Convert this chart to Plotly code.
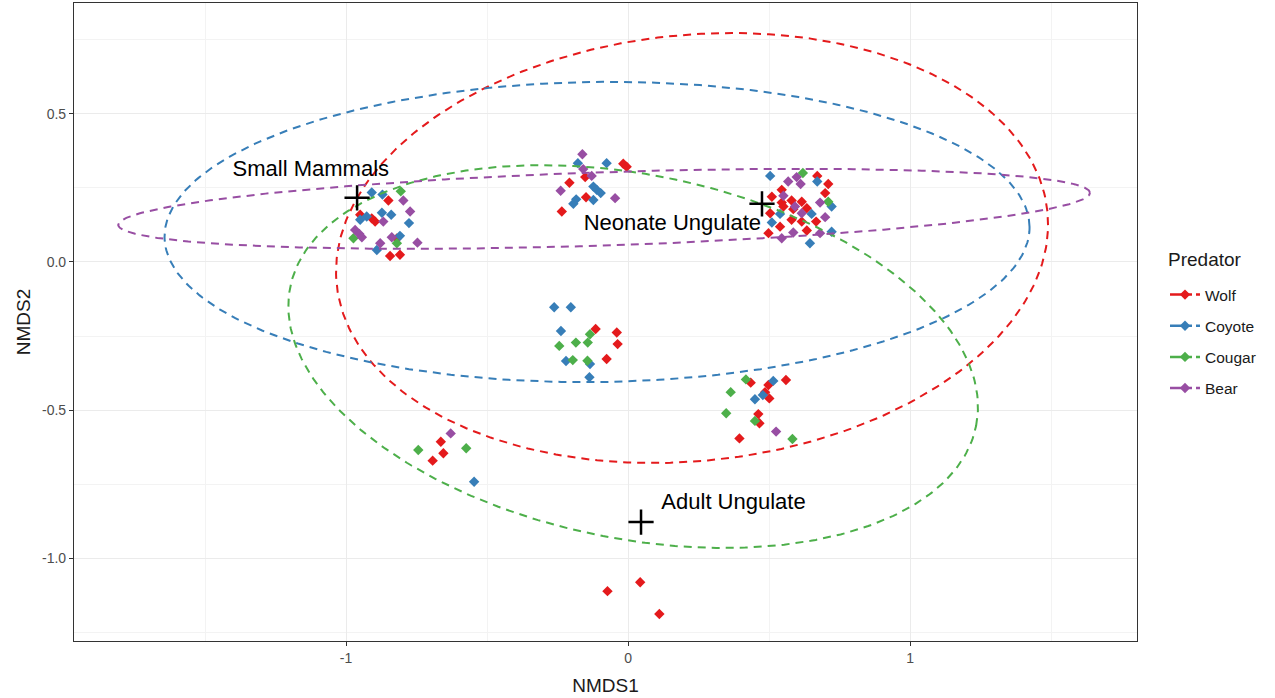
import numpy as np
import plotly.graph_objects as go

PREDATORS = ["Wolf", "Coyote", "Cougar", "Bear"]
COLORS = ["#E41A1C", "#377EB8", "#4DAF4A", "#984EA3"]

# points per predator (NMDS1, NMDS2)
WOLF_X = [-0.850, -0.950, -0.909, -0.897, -0.820, -0.844, -0.809,
          -0.017, -0.005, -0.152, -0.208, -0.149, -0.235,
          0.671, 0.710, 0.545, 0.699, 0.510, 0.545, 0.580, 0.616, 0.551, 0.586, 0.634,
          0.504, 0.580, 0.616, 0.667, 0.539, 0.498, 0.634,
          -0.115, -0.040, -0.037, -0.076,
          0.435, 0.560, 0.498, 0.486, 0.501, 0.462, 0.466, 0.395,
          -0.664, -0.655, -0.693,
          -0.073, 0.043, 0.111]
WOLF_Y = [0.207, 0.159, 0.147, 0.136, 0.079, 0.020, 0.024,
          0.331, 0.321, 0.286, 0.267, 0.218, 0.170,
          0.290, 0.263, 0.243, 0.232, 0.220, 0.200, 0.207, 0.203, 0.187, 0.178, 0.181,
          0.164, 0.142, 0.136, 0.136, 0.119, 0.097, 0.106,
          -0.226, -0.238, -0.277, -0.327,
          -0.407, -0.398, -0.415, -0.439, -0.460, -0.513, -0.544, -0.595,
          -0.606, -0.645, -0.670,
          -1.110, -1.080, -1.187]

COYOTE_X = [-0.909, -0.871, -0.950, -0.927, -0.873, -0.840, -0.777, -0.809, -0.891,
            -0.178, -0.076, -0.123, -0.111, -0.097, -0.184, -0.194, -0.123,
            0.504, 0.671, 0.722, 0.539, 0.651, 0.510, 0.722, 0.645,
            -0.262, -0.203, -0.238, -0.220, -0.135, -0.137,
            0.515, 0.478, 0.450,
            -0.546]
COYOTE_Y = [0.234, 0.227, 0.142, 0.153, 0.166, 0.159, 0.131, 0.088, 0.040,
            0.333, 0.333, 0.254, 0.243, 0.232, 0.211, 0.196, 0.209,
            0.290, 0.271, 0.187, 0.162, 0.162, 0.133, 0.102, 0.063,
            -0.153, -0.153, -0.233, -0.334, -0.344, -0.389,
            -0.401, -0.449, -0.463,
            -0.741]

COUGAR_X = [-0.806, -0.974, -0.820,
            0.710, 0.620,
            -0.135, -0.244, -0.185, -0.143, -0.196, -0.144,
            0.418, 0.364, 0.348, 0.450, 0.583,
            -0.744, -0.574]
COUGAR_Y = [0.238, 0.080, 0.063,
            0.203, 0.300,
            -0.244, -0.283, -0.272, -0.272, -0.331, -0.333,
            -0.396, -0.439, -0.510, -0.536, -0.597,
            -0.634, -0.628]

BEAR_X = [-0.797, -0.868, -0.773, -0.968, -0.953, -0.944, -0.838, -0.879, -0.747,
          -0.162, -0.159, -0.129, -0.239, -0.046,
          0.568, 0.598, 0.612, 0.551, 0.681, 0.592, 0.616, 0.699, 0.586, 0.681, 0.545,
          0.525,
          -0.629]
BEAR_Y = [0.207, 0.136, 0.170, 0.108, 0.094, 0.083, 0.083, 0.063, 0.065,
          0.363, 0.313, 0.290, 0.240, 0.215,
          0.271, 0.286, 0.263, 0.223, 0.200, 0.187, 0.164, 0.151, 0.099, 0.097, 0.080,
          -0.572,
          -0.578]

PTS_X = [WOLF_X, COYOTE_X, COUGAR_X, BEAR_X]
PTS_Y = [WOLF_Y, COYOTE_Y, COUGAR_Y, BEAR_Y]

# ellipse parameters (center, semi-axes in NMDS1 units, rotation in rad)
ELL_CX = [0.227, -0.110, 0.018, -0.085]
ELL_CY = [0.047, 0.101, -0.319, 0.179]
ELL_A = [1.267, 1.534, 1.241, 1.724]
ELL_B = [0.755, 0.532, 0.645, 0.130]
ELL_ANG = [0.103, 0.012, -0.200, 0.033]
Y_ASPECT = 282.0 / 296.5

# prey centroids
PREY_NAMES = ["Small Mammals", "Neonate Ungulate", "Adult Ungulate"]
PREY_X = [-0.961, 0.475, 0.046]
PREY_Y = [0.216, 0.196, -0.877]
LABEL_X = [-1.125, 0.157, 0.374]
LABEL_Y = [0.307, 0.125, -0.813]

FONT = "Liberation Sans, Arial, sans-serif"

fig = go.Figure()

for i, name in enumerate(PREDATORS):
    fig.add_trace(go.Scatter(
        x=PTS_X[i], y=PTS_Y[i], mode="markers",
        marker=dict(symbol="diamond", size=8, color=COLORS[i]),
        showlegend=False, hoverinfo="skip"))

t = np.linspace(0, 2 * np.pi, 361)
for i, name in enumerate(PREDATORS):
    a, b, th = ELL_A[i], ELL_B[i], ELL_ANG[i]
    ex = ELL_CX[i] + a * np.cos(th) * np.cos(t) - b * np.sin(th) * np.sin(t)
    ey = ELL_CY[i] + (a * np.sin(th) * np.cos(t) + b * np.cos(th) * np.sin(t)) * Y_ASPECT
    fig.add_trace(go.Scatter(
        x=ex, y=ey, mode="lines",
        line=dict(color=COLORS[i], width=2, dash="8px,6px"),
        showlegend=False, hoverinfo="skip"))

for i, name in enumerate(PREDATORS):
    fig.add_trace(go.Scatter(
        x=[None], y=[None], mode="lines+markers", name=name, legendgroup=name,
        line=dict(color=COLORS[i], width=2.5, dash="22px,4px"),
        marker=dict(symbol="diamond", size=8, color=COLORS[i])))

fig.add_trace(go.Scatter(
    x=PREY_X, y=PREY_Y, mode="markers",
    marker=dict(symbol="cross-thin", size=18, line=dict(color="black", width=2.5)),
    showlegend=False, hoverinfo="skip"))

fig.add_trace(go.Scatter(
    x=LABEL_X, y=LABEL_Y, mode="text", text=PREY_NAMES,
    textfont=dict(family=FONT, size=22, color="black"),
    showlegend=False, hoverinfo="skip"))

axis_common = dict(
    showgrid=True, gridcolor="#EBEBEB", gridwidth=1.2,
    zeroline=False, showline=True, mirror=True, linecolor="#333333", linewidth=1.2,
    ticks="outside", ticklen=4, tickcolor="#333333", tickwidth=1,
    tickfont=dict(family=FONT, size=14, color="#4D4D4D"),
    minor=dict(showgrid=True, gridcolor="#F3F3F3", gridwidth=0.8),
)

fig.update_layout(
    width=1275, height=698,
    margin=dict(l=74, r=138, t=3, b=57),
    paper_bgcolor="white", plot_bgcolor="white",
    font=dict(family=FONT, color="black"),
    xaxis=dict(range=[-1.965, 1.805], tickvals=[-1, 0, 1], ticktext=["-1", "0", "1"],
               title=dict(text="NMDS1", font=dict(size=19, color="#1A1A1A"), standoff=13),
               **axis_common),
    yaxis=dict(range=[-1.278, 0.873], tickvals=[-1.0, -0.5, 0.0, 0.5],
               ticktext=["-1.0", "-0.5", "0.0", "0.5"],
               title=dict(text="NMDS2", font=dict(size=19, color="#1A1A1A"), standoff=6),
               **axis_common),
    legend=dict(
        font=dict(size=15.5, color="#1A1A1A"),
        x=(1165 - 74) / 1063, xanchor="left",
        y=(641 - 278) / 638, yanchor="top",
        itemwidth=30, tracegroupgap=8,
    ),
    annotations=[dict(
        text="Predator", xref="paper", yref="paper",
        x=(1166 - 74) / 1063, y=(641 - 259) / 638,
        xanchor="left", yanchor="middle", showarrow=False,
        font=dict(family=FONT, size=19, color="#1A1A1A"))],
)
fig.update_xaxes(minor=dict(tickvals=[-1.5, -0.5, 0.5, 1.5]))
fig.update_yaxes(minor=dict(tickvals=[-1.25, -0.75, -0.25, 0.25, 0.75]))

fig.write_html("out.html")
